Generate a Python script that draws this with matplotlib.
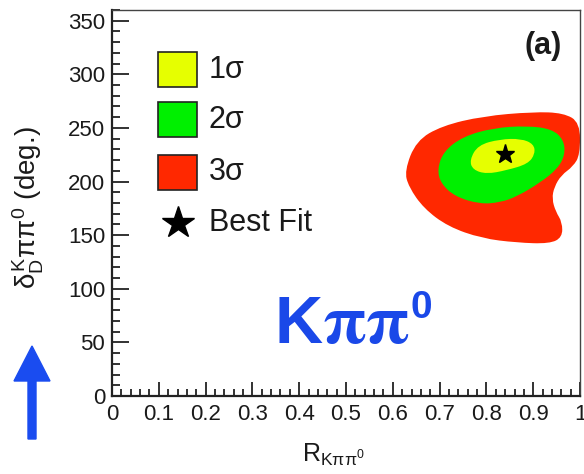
import matplotlib
matplotlib.use("Agg")
import matplotlib.pyplot as plt
from matplotlib.path import Path
from matplotlib.patches import PathPatch, Rectangle, FancyArrow
from matplotlib.ticker import MultipleLocator

plt.rcParams['font.family'] = ['Liberation Sans', 'DejaVu Sans']
plt.rcParams['mathtext.fontset'] = 'custom'
plt.rcParams['mathtext.rm'] = 'Liberation Sans'
plt.rcParams['mathtext.it'] = 'Liberation Sans'
plt.rcParams['mathtext.bf'] = 'Liberation Sans:bold'

# contour outlines (R, delta in deg)
red_x = [0.625, 0.650, 0.705, 0.793, 0.900, 0.965, 1.000, 1.000, 0.985, 0.960, 0.945,
         0.940, 0.948, 0.962, 0.962, 0.935, 0.865, 0.790, 0.718, 0.666, 0.634]
red_y = [210, 238, 252, 261, 265, 264, 255, 225, 214, 206, 195,
         184, 172, 162, 148, 142, 143, 147, 158, 175, 195]
green_x = [0.695, 0.708, 0.750, 0.815, 0.886, 0.940, 0.965, 0.968, 0.952, 0.915, 0.865,
           0.829, 0.786, 0.733, 0.703]
green_y = [211, 228, 242, 250, 252, 249, 239, 225, 212, 199, 186,
           180.5, 179, 186, 198]
yellow_x = [0.764, 0.782, 0.829, 0.874, 0.901, 0.904, 0.889, 0.843, 0.800, 0.771]
yellow_y = [220, 234, 239.5, 240, 235, 226, 216.5, 210.5, 207, 211]
best_fit = (0.840, 226.0)

levels = ['1σ', '2σ', '3σ']
colors = ['#e6ff00', '#00f000', '#ff2800']


def smooth_patch(xs, ys, color):
    # closed quadratic bezier chain, read points used as control vertices
    pts = list(zip(xs, ys))
    n = len(pts)
    mids = [((pts[i][0] + pts[(i + 1) % n][0]) / 2, (pts[i][1] + pts[(i + 1) % n][1]) / 2)
            for i in range(n)]
    verts, codes = [mids[-1]], [Path.MOVETO]
    for i in range(n):
        verts += [pts[i], mids[i]]
        codes += [Path.CURVE3, Path.CURVE3]
    return PathPatch(Path(verts, codes), facecolor=color, edgecolor='none')


fig = plt.figure(figsize=(5.84, 4.74), dpi=100)
ax = fig.add_axes([0.1918, 0.1646, 0.8014, 0.8143])

ax.add_patch(smooth_patch(red_x, red_y, colors[2]))
ax.add_patch(smooth_patch(green_x, green_y, colors[1]))
ax.add_patch(smooth_patch(yellow_x, yellow_y, colors[0]))
ax.plot(*best_fit, marker='*', color='black', markersize=14)

ax.set_xlim(0, 1)
ax.set_ylim(0, 360)
ax.xaxis.set_minor_locator(MultipleLocator(0.02))
ax.yaxis.set_major_locator(MultipleLocator(50))
ax.yaxis.set_minor_locator(MultipleLocator(10))
ax.set_xticks([0, 0.1, 0.2, 0.3, 0.4, 0.5, 0.6, 0.7, 0.8, 0.9, 1.0])
ax.set_xticklabels(['0', '0.1', '0.2', '0.3', '0.4', '0.5', '0.6', '0.7', '0.8', '0.9', '1'])
ax.tick_params(which='both', direction='in', color='#222222', labelcolor='#1a1a1a',
               labelsize=16)
ax.tick_params(axis='y', which='major', length=12, width=1.3, pad=5)
ax.tick_params(axis='y', which='minor', length=6, width=1.3)
ax.tick_params(axis='x', which='major', length=10, width=1.3, pad=6)
ax.tick_params(axis='x', which='minor', length=5, width=1.3)
for s in ['left', 'bottom']:
    ax.spines[s].set_linewidth(1.6)
    ax.spines[s].set_color('#222222')
for s in ['top', 'right']:
    ax.spines[s].set_linewidth(1.0)
    ax.spines[s].set_color('#444444')

ax.set_xlabel(r'R$_{K\pi\pi^0}$', fontsize=18, color='#1a1a1a')
ax.xaxis.set_label_coords(0.474, -0.118)
ax.set_ylabel(r'$\delta^{K}_{D}\pi\pi^{0}$ (deg.)', fontsize=20, color='#1a1a1a')
ax.yaxis.set_label_coords(-0.142, 0.487)

# legend drawn by hand
box_y = [0.800, 0.671, 0.534]
for c, lab, y0 in zip(colors, levels, box_y):
    ax.add_patch(Rectangle((0.098, y0), 0.084, 0.09, transform=ax.transAxes,
                           facecolor=c, edgecolor='#222222', lw=1.2, zorder=5))
    ax.text(0.207, y0 + 0.045, lab, transform=ax.transAxes, fontsize=22,
            va='center', ha='left', color='#1a1a1a')
ax.plot([0.141], [0.447], transform=ax.transAxes, marker='*', color='black',
        markersize=24, clip_on=False)
ax.text(0.207, 0.447, 'Best Fit', transform=ax.transAxes, fontsize=22,
        va='center', ha='left', color='#1a1a1a')

ax.text(0.921, 0.907, '(a)', transform=ax.transAxes, fontsize=22, fontweight='bold',
        ha='center', va='center', color='#1a1a1a')

blue = '#1a48e8'
ax.text(0.348, 0.137, 'K', transform=ax.transAxes, fontsize=48, fontweight='bold',
        color=blue, ha='left', va='baseline')
ax.text(0.450, 0.137, 'ππ', transform=ax.transAxes, fontsize=50, fontweight='bold',
        family=['STIXGeneral', 'DejaVu Serif'], color=blue, ha='left', va='baseline')
ax.text(0.638, 0.202, '0', transform=ax.transAxes, fontsize=28, fontweight='bold',
        color=blue, ha='left', va='baseline')

fig.patches.append(FancyArrow(32 / 584, (474 - 439) / 474, 0, (439 - 346) / 474,
                              width=8 / 584, head_width=36 / 584,
                              head_length=35 / 474, length_includes_head=True,
                              transform=fig.transFigure, color='#1a4cf0', figure=fig))

fig.savefig('out.png', dpi=100)
